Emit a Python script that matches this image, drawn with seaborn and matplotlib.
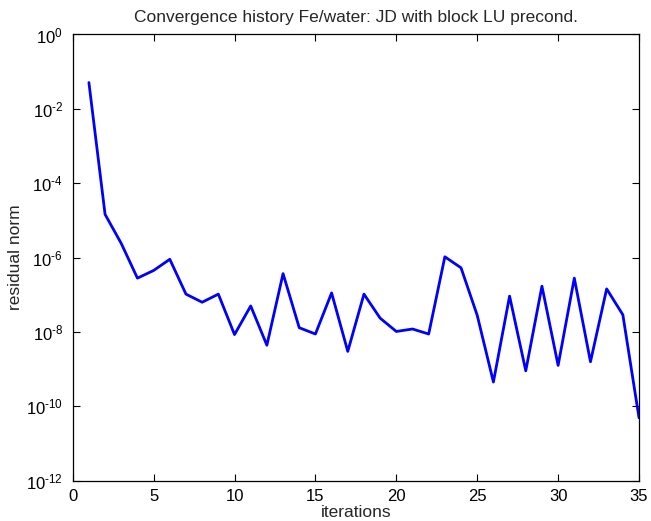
"""
Convergence history plot - MATLAB style semilogy
"""
import matplotlib
matplotlib.use("Agg")
import matplotlib.pyplot as plt
import matplotlib.ticker as mticker
import seaborn as sns
import pandas as pd
import numpy as np

# Data
iterations = list(range(1, 36))
residual_norm = [
    5.1e-2, 1.45e-5, 2.4e-6, 2.8e-7, 4.5e-7, 9.0e-7, 1.04e-7, 6.3e-8, 1.04e-7, 8.5e-9,
    5.0e-8, 4.4e-9, 3.7e-7, 1.3e-8, 8.8e-9, 1.12e-7, 3.0e-9, 1.04e-7, 2.35e-8, 1.03e-8,
    1.2e-8, 8.8e-9, 1.05e-6, 5.3e-7, 2.8e-8, 4.5e-10, 9.2e-8, 9.0e-10, 1.7e-7, 1.26e-9,
    2.8e-7, 1.58e-9, 1.44e-7, 2.9e-8, 4.9e-11,
]
x_ticks = [0, 5, 10, 15, 20, 25, 30, 35]
y_ticks = [1e-12, 1e-10, 1e-8, 1e-6, 1e-4, 1e-2, 1e0]

sns.set_style("ticks")
plt.rcParams['font.family'] = ['Liberation Sans', 'DejaVu Sans']
plt.rcParams['mathtext.fontset'] = 'custom'
plt.rcParams['mathtext.rm'] = 'Liberation Sans'
plt.rcParams['mathtext.it'] = 'Liberation Sans'

df = pd.DataFrame({'iterations': iterations, 'residual': residual_norm})

fig = plt.figure(figsize=(6.51, 5.21), dpi=100)
ax = fig.add_axes([0.1117, 0.0774, 0.8699, 0.8564])

sns.lineplot(data=df, x='iterations', y='residual', color=(0, 0, 1),
             linewidth=2.0, ax=ax)

ax.set_yscale('log')
ax.set_xlim(0, 35)
ax.set_ylim(1e-12, 1e0)
ax.set_xticks(x_ticks)
ax.set_yticks(y_ticks)
ax.yaxis.set_minor_locator(mticker.NullLocator())
ax.yaxis.set_major_formatter(mticker.FuncFormatter(
    lambda v, pos: r'$10^{\text{%d}}$' % int(round(np.log10(v)))))

ax.tick_params(direction='in', length=5, width=0.8, labelsize=12,
               top=True, right=True, colors='black')
ax.tick_params(axis='y', pad=7)
ax.tick_params(axis='x', pad=6)
for side in ax.spines.values():
    side.set_visible(True)
    side.set_linewidth(0.9)
    side.set_color('black')

ax.set_xlabel('iterations', fontsize=12.5, labelpad=0.5)
ax.set_ylabel('residual norm', fontsize=12.5, labelpad=2)
ax.set_title('Convergence history Fe/water: JD with block LU precond.',
             fontsize=12.5, pad=9)

fig.savefig('out.png', dpi=100)
plt.close()
